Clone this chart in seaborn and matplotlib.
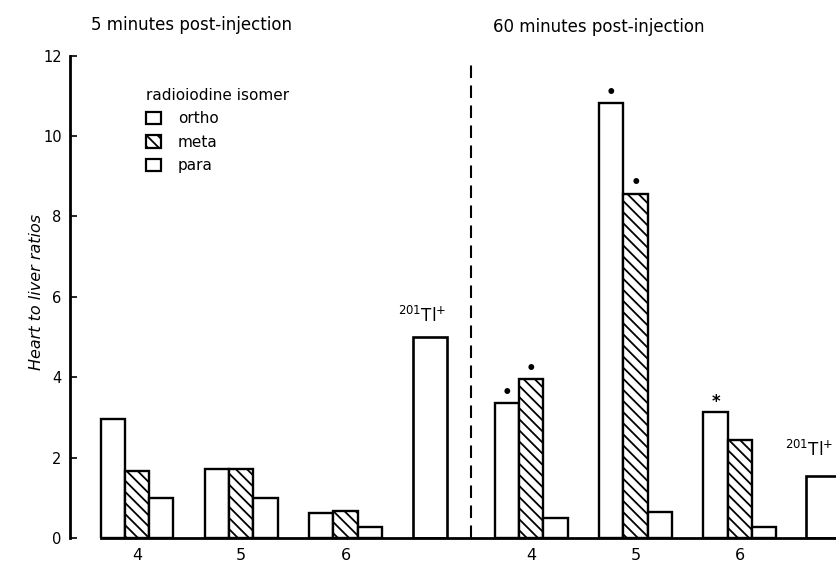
import numpy as np
import pandas as pd
import matplotlib
matplotlib.use("Agg")
import matplotlib.pyplot as plt
import matplotlib.hatch as mhatch
import seaborn as sns
from matplotlib.patches import Patch

# ---------------- data ----------------
compounds = ["4", "5", "6"]
isomers = ["ortho", "meta", "para"]
period_titles = ["5 minutes post-injection", "60 minutes post-injection"]

ortho_5min = [2.95, 1.71, 0.62]
meta_5min = [1.66, 1.71, 0.66]
para_5min = [1.00, 1.00, 0.28]
ortho_60min = [3.35, 10.81, 3.13]
meta_60min = [3.95, 8.56, 2.44]
para_60min = [0.49, 0.64, 0.27]
thallium = [4.99, 1.53]          # 201Tl+ reference, 5 min and 60 min
thallium_label = r"$^{201}$Tl$^{+}$"
sig_ortho_60min = ["\u2022", "\u2022", "*"]
sig_meta_60min = ["\u2022", "\u2022", ""]
y_ticks = [0, 2, 4, 6, 8, 10, 12]
y_tick_labels = ["0", "2", "4", "6", "8", "10", "12"]
y_label = "Heart to liver ratios"
legend_title = "radioiodine isomer"

# ---------------- hatch spacing (~11 px between diagonal lines) ----------------
BS = chr(92)
_base = getattr(mhatch, "SouthEastHatch", None)
if _base is not None:
    class _SEHatch(_base):
        def __init__(self, hatch, density):
            super().__init__(hatch, density)
            n = hatch.count(BS)
            lines = int(round(n * density * 3)) if n else 0
            lines += lines % 2          # keep even so the pattern tiles
            self.num_lines = lines
            self.num_vertices = (lines + 1) * 2 if lines else 0

    mhatch._hatch_types = [_SEHatch if t is _base else t
                           for t in mhatch._hatch_types]

# ---------------- style ----------------
sns.set_theme(style="white")
plt.rcParams["font.family"] = ["DejaVu Sans"]
plt.rcParams["hatch.linewidth"] = 1.3
plt.rcParams["hatch.color"] = "black"
for k in ("text.color", "axes.labelcolor", "xtick.color", "ytick.color"):
    plt.rcParams[k] = "black"

W, H = 837, 562
fig = plt.figure(figsize=(W / 100, H / 100), dpi=100)
px_unit = 104.3                      # pixels per group spacing
x_axis_px, x_origin_px = 70, 137
y0_px, y12_px = 538, 55.6
ax = fig.add_axes([x_axis_px / W, (H - y0_px) / H,
                   1 - x_axis_px / W, (y0_px - y12_px) / H])

centers_5 = np.array([0.0, 1.0, 2.0])
centers_60 = centers_5 + 3.78
bar_w = 0.233
offsets = {"ortho": -bar_w, "meta": 0.0, "para": bar_w}
values = {
    "ortho": ortho_5min + ortho_60min,
    "meta": meta_5min + meta_60min,
    "para": para_5min + para_60min,
}
hatches = {"ortho": None, "meta": BS, "para": None}

for iso in isomers:
    pos = np.concatenate([centers_5, centers_60]) + offsets[iso]
    df = pd.DataFrame({"pos": pos, "ratio": values[iso]})
    native = np.min(np.diff(np.sort(pos)))
    sns.barplot(data=df, x="pos", y="ratio", native_scale=True,
                width=bar_w / native, color="white", saturation=1,
                edgecolor="black", linewidth=1.7, hatch=hatches[iso],
                errorbar=None, ax=ax)

tl_pos = np.array([2.81, 6.58])
tl_w = 0.326
df_tl = pd.DataFrame({"pos": tl_pos, "ratio": thallium})
sns.barplot(data=df_tl, x="pos", y="ratio", native_scale=True,
            width=tl_w / np.diff(tl_pos)[0], color="white", saturation=1,
            edgecolor="black", linewidth=1.9, errorbar=None, ax=ax)

# significance markers
for i in range(3):
    for iso, sig in (("ortho", sig_ortho_60min), ("meta", sig_meta_60min)):
        if sig[i]:
            v = (ortho_60min if iso == "ortho" else meta_60min)[i]
            ax.annotate(sig[i], (centers_60[i] + offsets[iso], v),
                        xytext=(0, 1), textcoords="offset points",
                        ha="center", va="bottom", fontsize=12,
                        fontweight="bold", annotation_clip=False)

# thallium labels
for p, v, dx, dy in zip(tl_pos, thallium, (-6, -10), (8, 12)):
    ax.annotate(thallium_label, (p, v), xytext=(dx, dy),
                textcoords="offset points", ha="center", va="bottom",
                fontsize=12, annotation_clip=False)

# dashed separator
ax.axvline(3.2, ymin=0.0, ymax=0.99, color="black", lw=1.5,
           linestyle=(0, (6.0, 3.6)))

# axes
xmin = (x_axis_px - x_origin_px) / px_unit
xmax = (W - x_origin_px) / px_unit
ax.set_xlim(xmin, xmax)
ax.set_ylim(0, 12)
ax.set_xticks(np.concatenate([centers_5, centers_60]))
ax.set_xticklabels(compounds + compounds, fontsize=11.5)
ax.set_yticks(y_ticks)
ax.set_yticklabels(y_tick_labels, fontsize=10.5)
ax.tick_params(axis="x", length=0, pad=7)
ax.tick_params(axis="y", direction="in", length=5, width=1.2, pad=6,
               left=True)
ax.set_xlabel("")
ax.set_ylabel(y_label, fontsize=11.5, style="italic")
ax.yaxis.set_label_coords((44 - x_axis_px) / (W - x_axis_px), 0.51)
for s in ("top", "right"):
    ax.spines[s].set_visible(False)
ax.spines["left"].set_linewidth(2.0)
ax.spines["left"].set_color("black")
ax.spines["bottom"].set_linewidth(2.0)
ax.spines["bottom"].set_color("black")
ax.spines["bottom"].set_bounds(-1.5 * bar_w, xmax)

# titles
fig.text(91 / W, 1 - 25 / H, period_titles[0], ha="left", va="center",
         fontsize=12)
fig.text(493 / W, 1 - 27 / H, period_titles[1], ha="left", va="center",
         fontsize=12)

# legend
handles = [Patch(facecolor="white", edgecolor="black", linewidth=1.6,
                 hatch=hatches[iso]) for iso in isomers]
leg = ax.legend(handles, isomers, title=legend_title, loc="upper left",
                bbox_to_anchor=(146 / W, 1 - 88 / H),
                bbox_transform=fig.transFigure, frameon=False,
                alignment="left", borderpad=0, borderaxespad=0,
                handlelength=1.0, handleheight=0.9, handletextpad=1.1,
                labelspacing=0.55, fontsize=11, title_fontsize=11)

fig.savefig("out.png", dpi=100, facecolor="white")
